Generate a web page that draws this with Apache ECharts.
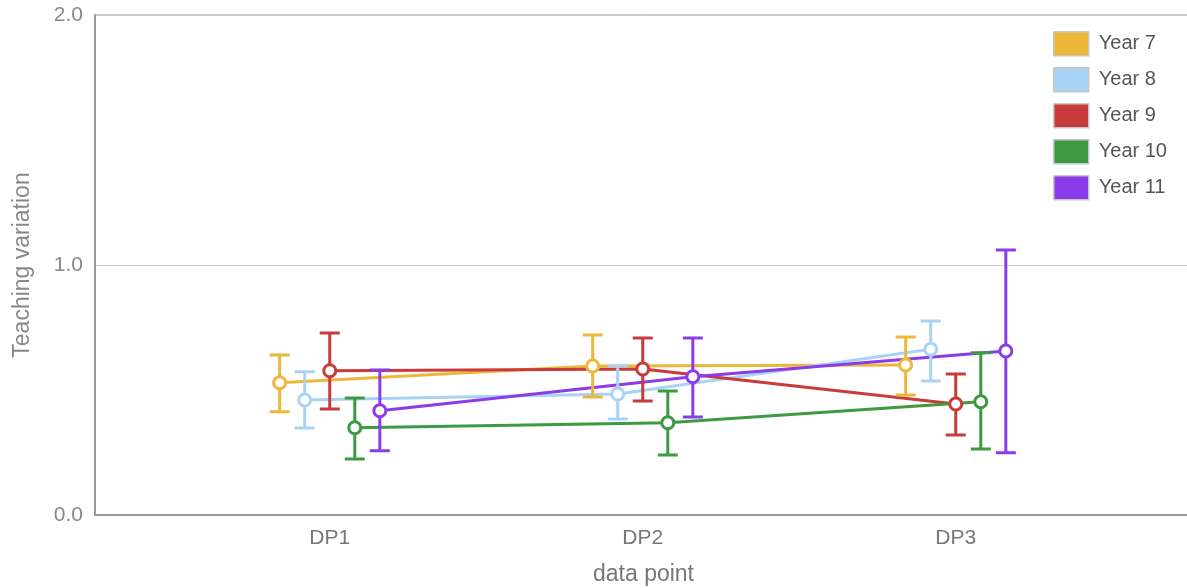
<!DOCTYPE html>
<html><head><meta charset="utf-8">
<script src="https://cdn.jsdelivr.net/npm/echarts@6/dist/echarts.min.js"></script>
<style>html,body{margin:0;padding:0;background:#fff}#c{width:1187px;height:588px}</style>
</head><body><div id="c"></div>
<script>
const categories = ['DP1', 'DP2', 'DP3'];
const seriesNames = ['Year 7', 'Year 8', 'Year 9', 'Year 10', 'Year 11'];
const yTickLabels = ['0.0', '1.0', '2.0'];

const year7Mean = [0.529, 0.596, 0.600];
const year7Low  = [0.413, 0.472, 0.480];
const year7High = [0.640, 0.720, 0.712];

const year8Mean = [0.460, 0.484, 0.663];
const year8Low  = [0.348, 0.384, 0.536];
const year8High = [0.573, 0.596, 0.776];

const year9Mean = [0.577, 0.584, 0.444];
const year9Low  = [0.424, 0.456, 0.320];
const year9High = [0.728, 0.708, 0.564];

const year10Mean = [0.349, 0.369, 0.453];
const year10Low  = [0.224, 0.240, 0.264];
const year10High = [0.468, 0.496, 0.649];

const year11Mean = [0.417, 0.553, 0.656];
const year11Low  = [0.257, 0.392, 0.249];
const year11High = [0.580, 0.708, 1.060];

const means = [year7Mean, year8Mean, year9Mean, year10Mean, year11Mean];
const lows = [year7Low, year8Low, year9Low, year10Low, year11Low];
const highs = [year7High, year8High, year9High, year10High, year11High];

const colors = ['#EDB73A', '#A9D3F5', '#C93A3A', '#3D9A3F', '#8B3BE8'];
const seriesOffset = [-0.16, -0.08, 0, 0.08, 0.16];

const series = [];
seriesNames.forEach((name, s) => {
  const pts = categories.map((c, i) => [i + 1 + seriesOffset[s], means[s][i]]);
  series.push({
    name, type: 'line', data: pts, showSymbol: false, z: 2,
    lineStyle: { color: colors[s], width: 3 }, itemStyle: { color: colors[s] },
    emphasis: { disabled: true }
  });
  series.push({
    name, type: 'custom', z: 3,
    data: categories.map((c, i) => [i + 1 + seriesOffset[s], lows[s][i], highs[s][i]]),
    renderItem: function (params, api) {
      const x = api.value(0);
      const lo = api.coord([x, api.value(1)]);
      const hi = api.coord([x, api.value(2)]);
      const hw = 10;
      const st = { stroke: colors[s], lineWidth: 3 };
      return { type: 'group', children: [
        { type: 'line', shape: { x1: lo[0], y1: lo[1], x2: hi[0], y2: hi[1] }, style: st },
        { type: 'line', shape: { x1: lo[0] - hw, y1: lo[1], x2: lo[0] + hw, y2: lo[1] }, style: st },
        { type: 'line', shape: { x1: hi[0] - hw, y1: hi[1], x2: hi[0] + hw, y2: hi[1] }, style: st }
      ]};
    },
    itemStyle: { color: colors[s] }
  });
  series.push({
    name, type: 'scatter', data: pts, z: 4, symbol: 'circle', symbolSize: 12,
    itemStyle: { color: '#fff', borderColor: colors[s], borderWidth: 3, opacity: 1 },
    emphasis: { disabled: true }
  });
});

const chart = echarts.init(document.getElementById('c'));
chart.setOption({
  animation: false,
  backgroundColor: '#fff',
  textStyle: { fontFamily: 'Liberation Sans, Arial, sans-serif' },
  grid: { left: 95, top: 15, right: -5, bottom: 73, containLabel: false, outerBoundsMode: 'none',
          show: true, borderColor: '#999', borderWidth: 1 },
  legend: {
    orient: 'vertical', left: 1053, top: 31, padding: 0, itemWidth: 35, itemHeight: 24, itemGap: 10.5,
    icon: 'rect', selectedMode: false,
    textStyle: { fontSize: 20, color: '#555', padding: [0, 0, 0, 5] },
    data: seriesNames.map((n, s) => ({ name: n, itemStyle: { color: colors[s], borderColor: '#c8c8c8', borderWidth: 1.5 } }))
  },
  xAxis: {
    type: 'value', min: 0.25, max: 0.25 + 1097 / 313,
    name: 'data point', nameLocation: 'middle', nameGap: 48,
    nameTextStyle: { fontSize: 23, color: '#777' },
    axisLine: { show: true, lineStyle: { color: '#999', width: 2 } },
    axisTick: { show: false },
    splitLine: { show: false },
    axisLabel: { customValues: [1, 2, 3], formatter: v => categories[Math.round(v) - 1] || '', fontSize: 21, color: '#777', margin: 13 }
  },
  yAxis: {
    type: 'value', min: 0, max: 2, interval: 1,
    name: 'Teaching variation', nameLocation: 'middle', nameGap: 61, nameRotate: 90,
    nameTextStyle: { fontSize: 23, color: '#888' },
    axisLine: { show: true, lineStyle: { color: '#999', width: 2 } },
    axisTick: { show: false },
    splitLine: { show: true, lineStyle: { color: '#ccc', width: 1 } },
    axisLabel: { formatter: v => yTickLabels[Math.round(v)], fontSize: 21, color: '#888', margin: 12 }
  },
  series
});
</script></body></html>
